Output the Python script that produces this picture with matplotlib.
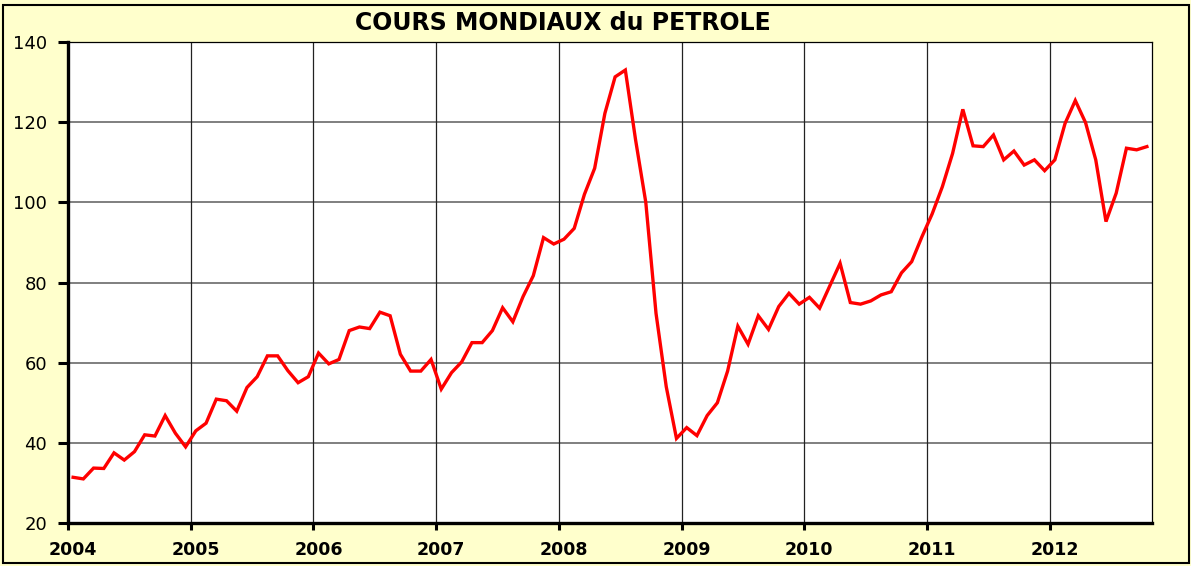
import numpy as np
import matplotlib
matplotlib.use('Agg')
import matplotlib.pyplot as plt
import matplotlib.transforms as mtransforms
from matplotlib.patches import Rectangle

# monthly world oil price, Jan 2004 .. Oct 2012
prix_2004 = [31.4, 31.0, 33.7, 33.6, 37.5, 35.7, 37.8, 42.0, 41.7, 46.8, 42.4, 39.0]
prix_2005 = [43.0, 44.9, 50.9, 50.5, 47.9, 53.8, 56.5, 61.7, 61.7, 58.0, 55.0, 56.5]
prix_2006 = [62.4, 59.7, 60.8, 68.0, 68.9, 68.5, 72.6, 71.7, 62.1, 57.9, 57.9, 60.8]
prix_2007 = [53.4, 57.5, 60.2, 65.0, 65.0, 68.0, 73.7, 70.2, 76.5, 81.7, 91.2, 89.6]
prix_2008 = [90.8, 93.5, 102.0, 108.5, 122.2, 131.3, 133.0, 115.6, 100.0, 72.3, 54.0, 41.1]
prix_2009 = [43.8, 41.8, 46.8, 50.0, 57.9, 69.1, 64.6, 71.7, 68.3, 74.0, 77.3, 74.6]
prix_2010 = [76.3, 73.6, 79.2, 84.8, 75.0, 74.6, 75.4, 76.9, 77.7, 82.4, 85.2, 91.4]
prix_2011 = [97.1, 103.9, 112.2, 123.2, 114.1, 113.9, 116.8, 110.6, 112.8, 109.3, 110.6, 107.9]
prix_2012 = [110.6, 119.7, 125.4, 119.9, 110.6, 95.2, 102.3, 113.5, 113.1, 113.9]

annees = ['2004', '2005', '2006', '2007', '2008', '2009', '2010', '2011', '2012']
y_ticks = [20, 40, 60, 80, 100, 120, 140]

prix = prix_2004 + prix_2005 + prix_2006 + prix_2007 + prix_2008 + prix_2009 + prix_2010 + prix_2011 + prix_2012
mois = np.arange(len(prix)) + 0.5   # excel category axis: points sit between ticks

W, H = 1191, 566
fig = plt.figure(figsize=(W / 100, H / 100), dpi=100)
fig.patch.set_facecolor('#ffffcc')
fig.patches.append(Rectangle((3 / W, 3 / H), 1186 / W, 558 / H, transform=fig.transFigure,
                             fill=False, edgecolor='black', lw=1.5))

ax = fig.add_axes([68 / W, (H - 523) / H, 1084 / W, 481 / H])
ax.set_facecolor('white')

ax.plot(mois, prix, color='#ff0000', lw=2.4, solid_joinstyle='miter', zorder=3)

ax.set_xlim(0, len(prix))
ax.set_ylim(20, 140)
ax.set_xticks(np.arange(len(annees)) * 12)
ax.set_xticklabels(annees, fontweight='bold', fontsize=12.5, family='DejaVu Sans')
ax.set_yticks(y_ticks)
ax.set_yticklabels([str(v) for v in y_ticks], fontsize=13, family='DejaVu Sans')

for y in y_ticks[1:-1]:
    ax.axhline(y, color='#7f7f7f', lw=1.4, zorder=1)
for x in ax.get_xticks()[1:]:
    ax.axvline(x, color='#222222', lw=0.9, zorder=1)

ax.spines['left'].set_linewidth(2.4)
ax.spines['bottom'].set_linewidth(2.4)
ax.spines['top'].set_linewidth(0.9)
ax.spines['right'].set_linewidth(0.9)
ax.tick_params(axis='y', direction='out', length=7, width=2.2, pad=8)
ax.tick_params(axis='x', direction='out', length=5, width=2.2, pad=8)

offset = mtransforms.ScaledTranslation(5 / 100, 0, fig.dpi_scale_trans)
for lab in ax.get_xticklabels():
    lab.set_transform(lab.get_transform() + offset)

fig.text(563 / W, 1 - 23 / H, 'COURS MONDIAUX du PETROLE', ha='center', va='center',
         fontsize=17, fontweight='bold', family='DejaVu Sans')

fig.savefig('out.png', dpi=100, facecolor=fig.get_facecolor())
